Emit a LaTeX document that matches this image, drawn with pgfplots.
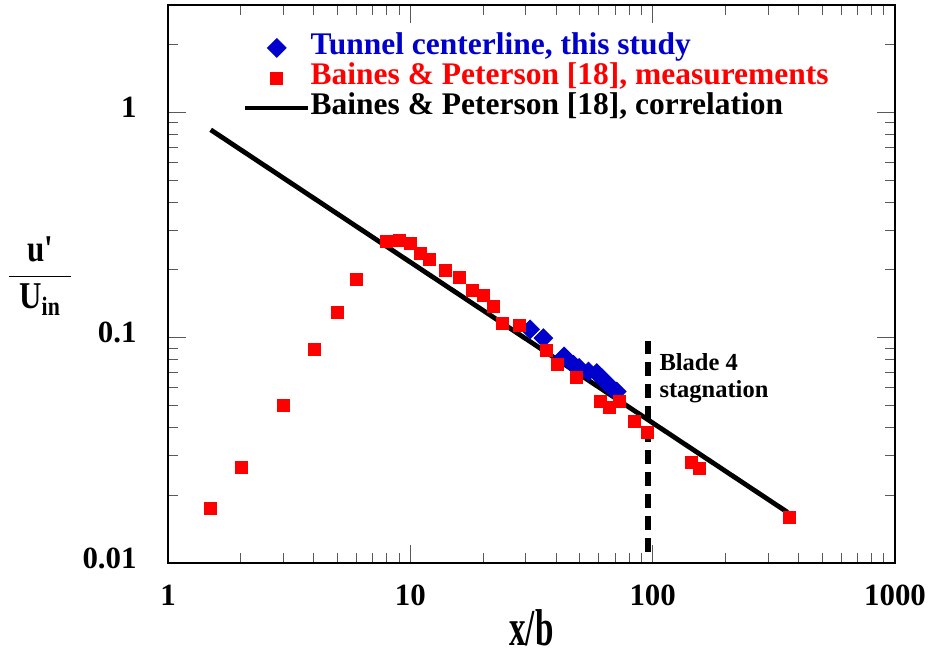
\documentclass[border=0pt]{standalone}
\usepackage{fontspec}
\setmainfont{Liberation Serif}
\usepackage{amsmath}
\usepackage{graphicx}
\usepackage{pgfplots}
\pgfplotsset{compat=1.18}
\definecolor{tblue}{RGB}{0,0,204}
\definecolor{tred}{RGB}{255,0,0}
\begin{document}
\begin{tikzpicture}
\begin{loglogaxis}[
  name=ax,
  scale only axis,
  width=363.5bp, height=279bp,
  xmin=1, xmax=1000, ymin=0.01, ymax=3,
  xtick={1,10,100,1000}, xticklabels={1,10,100,1000},
  ytick={0.01,0.1,1}, yticklabels={0.01,0.1,1},
  minor xtick={2,3,4,5,6,7,8,9,20,30,40,50,60,70,80,90,200,300,400,500,600,700,800,900},
  minor ytick={0.02,0.03,0.04,0.05,0.06,0.07,0.08,0.09,0.2,0.3,0.4,0.5,0.6,0.7,0.8,0.9,2,3},
  xtick pos=both, ytick pos=both,
  tick align=inside,
  major tick length=9bp, minor tick length=5bp,
  tick style={black!65, line width=0.5bp},
  axis line style={line width=0.8bp},
  ticklabel style={font=\fontsize{15.5}{18}\selectfont\bfseries},
  xticklabel style={inner sep=0pt, yshift=-11bp},
  yticklabel style={inner sep=0pt, xshift=-15.5bp, yshift=2.5bp},
  xlabel={\scalebox{0.64}[1]{x/b}},
  every axis x label/.style={at={(axis description cs:0.5,0)}, anchor=north, yshift=-23bp, inner sep=0pt, font=\fontsize{26}{28}\selectfont\bfseries},
  ylabel={\scalebox{0.82}[1]{$\dfrac{\text{u\textquotesingle}}{\hspace{6bp}\text{U}_{\text{in}}\hspace{6bp}}$}},
  every axis y label/.style={at={(axis description cs:0,0.514)}, anchor=center, xshift=-64bp, inner sep=0pt, font=\fontsize{19}{22}\selectfont\bfseries},
  legend style={draw=none, fill=none, at={(axis description cs:0.103,0.950)}, anchor=north west, inner sep=0pt, outer sep=0pt, row sep=0pt, column sep=0bp, font=\fontsize{15.8}{18}\selectfont\bfseries, nodes={inner sep=0pt, text height=11bp, text depth=4bp}},
  legend cell align=left,
  legend image code/.code={\draw[mark repeat=2,mark phase=2,#1] plot coordinates {(0bp,0bp) (15.75bp,0bp) (31.5bp,0bp)};},
]
\addplot[black, line width=2.4bp, forget plot] coordinates {(1.5,0.838) (360,0.0168)};
\addplot[only marks, tblue, mark=square*, mark size=3.3bp, mark options={rotate=45, fill=tblue, draw=tblue}] coordinates {
(31.2,0.109) (35.4,0.0997) (43.1,0.0826) (47.1,0.0759) (49.7,0.0735) (54.3,0.0708)
(58.8,0.0697) (61.7,0.0662) (64.7,0.0629) (67.8,0.0598) (71.1,0.0577)};
\addlegendentry{\textcolor{tblue}{Tunnel centerline, this study}}
\addplot[only marks, tred, mark=square*, mark size=3bp, mark options={fill=tred, draw=tred}] coordinates {
(1.5,0.0175) (2,0.0265) (3,0.050) (4,0.089) (5,0.129) (6,0.181) (8,0.267) (9,0.270)
(10,0.263) (11,0.238) (12,0.223) (14,0.200) (16,0.185) (18,0.162) (20,0.154) (22,0.138)
(24,0.116) (28.3,0.114) (36.5,0.0878) (40.4,0.0759) (48.6,0.0670) (60.7,0.0521)
(66.3,0.0492) (72.9,0.0521) (83.8,0.0425) (95.5,0.0381) (145,0.0280) (156,0.0264) (365,0.0160)};
\addlegendentry{\textcolor{tred}{Baines \& Peterson [18], measurements}}
\addlegendimage{black, line width=2.4bp}
\addlegendentry{Baines \& Peterson [18], correlation}
\addplot[black, line width=3bp, dash pattern=on 7bp off 4bp, forget plot] coordinates {(96,0.0112) (96,0.097)};
\node[anchor=north west, inner sep=0pt, align=left, font=\fontsize{12.3}{13.5}\selectfont\bfseries] at (axis cs:106.3,0.0858) {Blade 4\\stagnation};
\end{loglogaxis}
\pgfresetboundingbox
\path ([shift={(-84bp,-48bp)}]ax.south west) rectangle ([shift={(18bp,2.5bp)}]ax.north east);
\end{tikzpicture}
\end{document}
